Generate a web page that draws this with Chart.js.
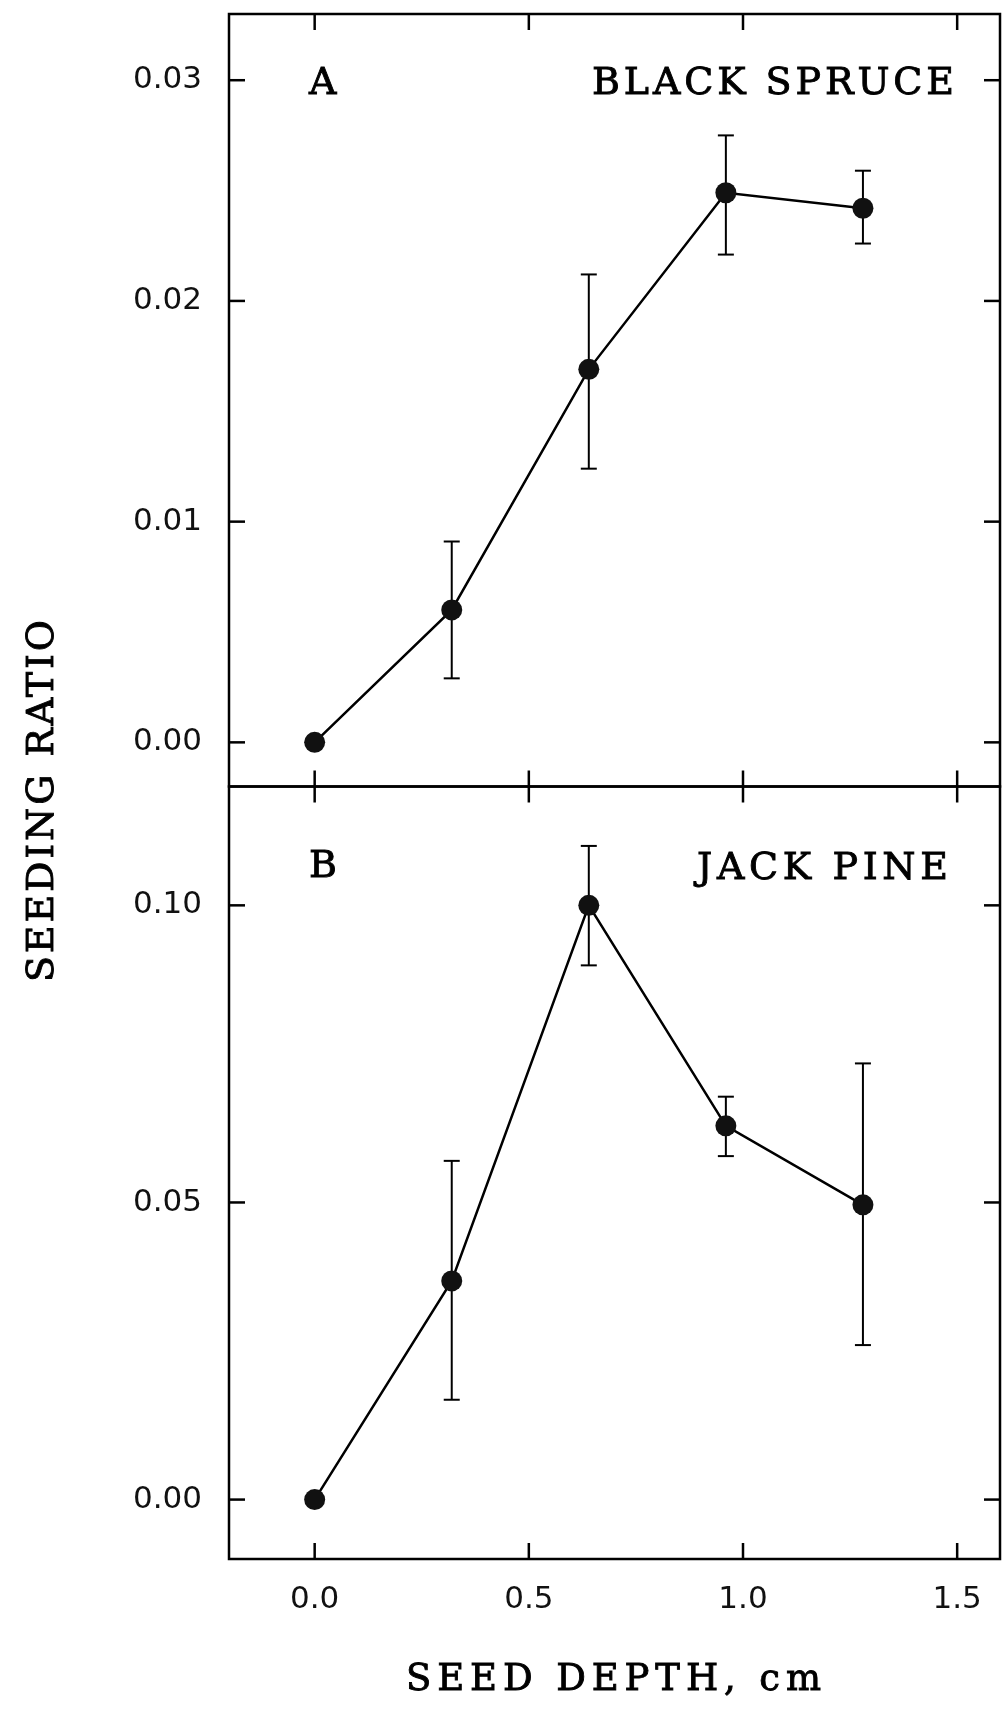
<!DOCTYPE html>
<html>
<head>
<meta charset="utf-8">
<script src="https://cdn.jsdelivr.net/npm/chart.js@4.4.1/dist/chart.umd.min.js"></script>
<style>
html, body { margin: 0; padding: 0; background: #fff; }
#wrap { width: 1002px; height: 1710px; }
</style>
</head>
<body>
<div id="wrap"><canvas id="seed-chart" width="1002" height="1710"></canvas></div>
<script>
// seed depth (cm)
var depth = [0, 0.32, 0.64, 0.96, 1.28];

// A - black spruce
var spruceRatio = [0, 0.0060, 0.0169, 0.0249, 0.0242];
var spruceLow   = [0, 0.0029, 0.0124, 0.0221, 0.0226];
var spruceHigh  = [0, 0.0091, 0.0212, 0.0275, 0.0259];

// B - jack pine
var pineRatio = [0, 0.0368, 0.1000, 0.0629, 0.0496];
var pineLow   = [0, 0.0168, 0.0899, 0.0578, 0.0260];
var pineHigh  = [0, 0.0570, 0.1100, 0.0678, 0.0734];

var depthTicks = [0, 0.5, 1.0, 1.5];
var spruceTicks = [0, 0.01, 0.02, 0.03];
var pineTicks = [0, 0.05, 0.10];

var SERIF = "'DejaVu Serif', 'Liberation Serif', serif";
var SANS = "'DejaVu Sans', sans-serif";

function points(xs, ys) {
    return xs.map(function (v, i) { return { x: v, y: ys[i] }; });
}

function line(ctx, x1, y1, x2, y2) {
    ctx.beginPath();
    ctx.moveTo(x1, y1);
    ctx.lineTo(x2, y2);
    ctx.stroke();
}

// typewriter-like spaced text, stretched between left and right
function spaced(ctx, text, left, right, baseline) {
    ctx.letterSpacing = '0px';
    var w = ctx.measureText(text).width;
    var gap = text.length > 1 ? (right - left - w) / (text.length - 1) : 0;
    ctx.letterSpacing = gap + 'px';
    ctx.textAlign = 'left';
    ctx.fillText(text, left, baseline);
    ctx.strokeText(text, left, baseline);
    ctx.letterSpacing = '0px';
}

// error bars, drawn under the markers
var errorBars = {
    id: 'errorBars',
    beforeDatasetsDraw: function (chart) {
        var ctx = chart.ctx;
        var xs = chart.scales.x;
        var sets = [
            { y: chart.scales.yA, lo: spruceLow, hi: spruceHigh },
            { y: chart.scales.yB, lo: pineLow, hi: pineHigh }
        ];
        ctx.save();
        ctx.strokeStyle = '#000';
        ctx.lineWidth = 2;
        sets.forEach(function (s) {
            depth.forEach(function (d, i) {
                if (s.lo[i] === s.hi[i]) return;
                var px = xs.getPixelForValue(d);
                var top = s.y.getPixelForValue(s.hi[i]);
                var bot = s.y.getPixelForValue(s.lo[i]);
                line(ctx, px, top, px, bot);
                line(ctx, px - 8, top, px + 8, top);
                line(ctx, px - 8, bot, px + 8, bot);
            });
        });
        ctx.restore();
    }
};

// box around each panel with inward ticks on every side, plus the texts
var frame = {
    id: 'frame',
    afterDraw: function (chart) {
        var ctx = chart.ctx;
        var xs = chart.scales.x;
        ctx.save();
        ctx.strokeStyle = '#000';
        ctx.lineWidth = 2.5;
        [chart.scales.yA, chart.scales.yB].forEach(function (ys) {
            ctx.strokeRect(xs.left, ys.top, xs.right - xs.left, ys.bottom - ys.top);
            ys.ticks.forEach(function (t) {
                var py = ys.getPixelForValue(t.value);
                line(ctx, xs.left, py, xs.left + 16, py);
                line(ctx, xs.right, py, xs.right - 16, py);
            });
            xs.ticks.forEach(function (t) {
                var px = xs.getPixelForValue(t.value);
                line(ctx, px, ys.top, px, ys.top + 16);
                line(ctx, px, ys.bottom, px, ys.bottom - 16);
            });
        });

        ctx.fillStyle = '#000';
        ctx.lineWidth = 0.9;
        ctx.textBaseline = 'alphabetic';
        ctx.font = '38px ' + SERIF;
        spaced(ctx, 'A', 309, 309, 94);
        spaced(ctx, 'B', 309, 309, 877);
        spaced(ctx, 'BLACK SPRUCE', 592, 954, 94);
        spaced(ctx, 'JACK PINE', 697, 948, 879);

        ctx.font = '37px ' + SERIF;
        spaced(ctx, 'SEED DEPTH, cm', 406, 821, 1690);

        // shared y title, reads bottom to top
        ctx.translate(53, 982);
        ctx.rotate(-Math.PI / 2);
        ctx.font = '38px ' + SERIF;
        spaced(ctx, 'SEEDING RATIO', 0, 362, 0);
        ctx.restore();
    }
};

var pointStyle = {
    borderColor: '#000',
    borderWidth: 2.5,
    pointRadius: 10.5,
    pointBackgroundColor: '#111',
    pointBorderWidth: 0,
    showLine: true,
    fill: false
};

var data = {
    datasets: [
        Object.assign({ label: 'BLACK SPRUCE', data: points(depth, spruceRatio), yAxisID: 'yA' }, pointStyle),
        Object.assign({ label: 'JACK PINE', data: points(depth, pineRatio), yAxisID: 'yB' }, pointStyle)
    ]
};

function noPadding(s) {
    s.paddingTop = 0;
    s.paddingBottom = 0;
    s.paddingLeft = 0;
    s.paddingRight = 0;
}

function yScale(min, max, tickVals) {
    return {
        type: 'linear',
        position: 'left',
        stack: 'panels',
        stackWeight: 1,
        min: min,
        max: max,
        grid: { display: false },
        border: { display: false },
        afterBuildTicks: function (s) {
            s.ticks = tickVals.map(function (v) { return { value: v }; });
        },
        afterFit: function (s) { s.width = 229; noPadding(s); },
        ticks: {
            padding: 19,
            color: '#111',
            font: { family: SANS, size: 31 },
            callback: function (v) { return v.toFixed(2); }
        }
    };
}

var config = {
    type: 'scatter',
    data: data,
    options: {
        responsive: false,
        animation: false,
        events: [],
        layout: { autoPadding: false, padding: { top: 14, right: 2, left: 0, bottom: 0 } },
        plugins: {
            legend: { display: false },
            tooltip: { enabled: false }
        },
        scales: {
            x: {
                type: 'linear',
                position: 'bottom',
                min: -0.2,
                max: 1.6,
                grid: { display: false },
                border: { display: false },
                afterBuildTicks: function (s) {
                    s.ticks = depthTicks.map(function (v) { return { value: v }; });
                },
                afterFit: function (s) { s.height = 151; noPadding(s); },
                ticks: {
                    padding: 14,
                    maxRotation: 0,
                    color: '#111',
                    font: { family: SANS, size: 31 },
                    callback: function (v) { return v.toFixed(1); }
                }
            },
            // listed bottom panel first so the stack puts it lower
            yB: yScale(-0.01, 0.12, pineTicks),
            yA: yScale(-0.002, 0.033, spruceTicks)
        }
    },
    plugins: [errorBars, frame]
};

var seedChart = new Chart(document.getElementById('seed-chart'), config);
</script>
</body>
</html>
